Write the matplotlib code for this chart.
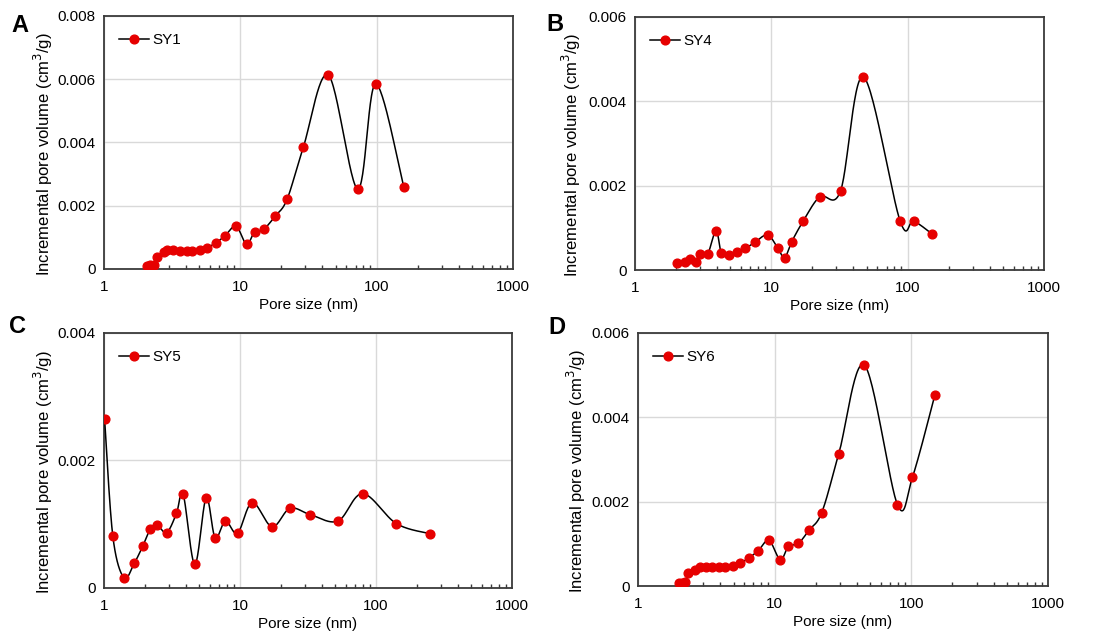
import numpy as np
import matplotlib
matplotlib.use("Agg")
import matplotlib.pyplot as plt
from matplotlib.ticker import LogLocator, FixedLocator, NullFormatter, FuncFormatter

plt.rcParams.update({"font.family": ["Liberation Sans", "DejaVu Sans"], "font.size": 11})

# Panel A - SY1
sy1_x = [2.06, 2.19, 2.31, 2.43, 2.74, 2.92, 3.19, 3.61, 4.06, 4.42, 5.05, 5.66, 6.59,
         7.67, 9.30, 11.1, 12.7, 14.8, 17.9, 22.0, 29.0, 44.2, 72.6, 98.3, 157.8]
sy1_y = [0.00008, 0.00012, 0.00012, 0.00037, 0.00054, 0.00059, 0.00060, 0.00058, 0.00057,
         0.00057, 0.00061, 0.00067, 0.00082, 0.00104, 0.00135, 0.00078, 0.00117, 0.00125,
         0.00166, 0.00220, 0.00386, 0.00613, 0.00253, 0.00585, 0.00260]

# Panel B - SY4
sy4_x = [2.02, 2.33, 2.53, 2.80, 3.00, 3.41, 3.93, 4.30, 4.92, 5.57, 6.45, 7.59, 9.39,
         11.2, 12.5, 14.1, 17.2, 22.7, 32.2, 47.3, 87.8, 110.6, 151.7]
sy4_y = [0.00017, 0.00020, 0.00025, 0.00018, 0.00038, 0.00038, 0.00093, 0.00040, 0.00036,
         0.00042, 0.00051, 0.00066, 0.00083, 0.00051, 0.00029, 0.00067, 0.00117, 0.00174,
         0.00188, 0.00458, 0.00117, 0.00116, 0.00085]

# Panel C - SY5
sy5_x = [1.01, 1.16, 1.40, 1.67, 1.93, 2.18, 2.44, 2.89, 3.41, 3.82, 4.65, 5.63, 6.56,
         7.82, 9.59, 12.3, 17.2, 23.3, 32.9, 52.5, 79.8, 141, 250]
sy5_y = [0.00265, 0.00082, 0.00016, 0.00039, 0.00066, 0.00092, 0.00099, 0.00087, 0.00117,
         0.00147, 0.00037, 0.00141, 0.00079, 0.00105, 0.00086, 0.00134, 0.00096, 0.00125,
         0.00115, 0.00105, 0.00148, 0.00101, 0.00085]

# Panel D - SY6
sy6_x = [2.00, 2.10, 2.22, 2.33, 2.60, 2.83, 3.15, 3.50, 3.89, 4.35, 4.93, 5.57, 6.45,
         7.59, 9.09, 11.0, 12.6, 14.9, 17.8, 22.1, 29.4, 45.3, 79.1, 101.9, 149]
sy6_y = [0.00008, 0.00008, 0.00010, 0.00030, 0.00039, 0.00044, 0.00045, 0.00046, 0.00044,
         0.00044, 0.00048, 0.00054, 0.00066, 0.00084, 0.00108, 0.00062, 0.00094, 0.00101,
         0.00132, 0.00174, 0.00312, 0.00524, 0.00193, 0.00258, 0.00454]

panels = [
    ("A", "SY1", sy1_x, sy1_y, 0.008, [0, 0.002, 0.004, 0.006, 0.008],
     [0.0949, 0.5784, 0.3732, 0.3966], (0.018, 0.960), -0.12),
    ("B", "SY4", sy4_x, sy4_y, 0.006, [0, 0.002, 0.004, 0.006],
     [0.5794, 0.5768, 0.3732, 0.3966], (0.506, 0.962), -0.127),
    ("C", "SY5", sy5_x, sy5_y, 0.004, [0, 0.002, 0.004],
     [0.0949, 0.0784, 0.3723, 0.3997], (0.016, 0.488), -0.12),
    ("D", "SY6", sy6_x, sy6_y, 0.006, [0, 0.002, 0.004, 0.006],
     [0.5821, 0.0815, 0.3741, 0.3966], (0.508, 0.486), -0.122),
]

RED = "#e60000"
SPINE = "#3a3a3a"


def smooth(x, y, ymax, n=30):
    """Excel-style smoothed line (Catmull-Rom in log-x / scaled-y space)."""
    u = np.log10(np.asarray(x, float))
    v = np.asarray(y, float) / ymax * 3.0
    P = np.column_stack([u, v])
    P = np.vstack([P[0], P, P[-1]])
    out = []
    t = np.linspace(0, 1, n)[:, None]
    for i in range(1, len(P) - 2):
        p0, p1, p2, p3 = P[i - 1], P[i], P[i + 1], P[i + 2]
        seg = 0.5 * ((2 * p1) + (-p0 + p2) * t + (2 * p0 - 5 * p1 + 4 * p2 - p3) * t ** 2
                     + (-p0 + 3 * p1 - 3 * p2 + p3) * t ** 3)
        out.append(seg)
    S = np.vstack(out)
    return 10 ** S[:, 0], S[:, 1] / 3.0 * ymax


fig = plt.figure(figsize=(10.96, 6.38), dpi=100)

for letter, name, xs, ys, ymax, yticks, rect, lpos, ylx in panels:
    ax = fig.add_axes(rect)
    sx, sy = smooth(xs, ys, ymax)
    ax.plot(sx, sy, color="black", lw=1.1, zorder=3)
    ax.plot(xs, ys, "o", color=RED, ms=6.3, mec=RED, zorder=4)
    ax.plot([], [], "-o", color="black", mfc=RED, mec=RED, ms=6.3, lw=1.1, label=name)
    ax.set_xscale("log")
    ax.set_xlim(1, 1000)
    ax.set_ylim(0, ymax)
    ax.set_yticks(yticks)
    ax.yaxis.set_major_formatter(FuncFormatter(lambda v, p: "0" if v == 0 else f"{v:.3f}"))
    ax.xaxis.set_major_locator(FixedLocator([1, 10, 100, 1000]))
    ax.xaxis.set_major_formatter(FuncFormatter(lambda v, p: f"{v:g}"))
    ax.xaxis.set_minor_locator(LogLocator(base=10, subs=np.arange(2, 10)))
    ax.xaxis.set_minor_formatter(NullFormatter())
    ax.tick_params(axis="x", which="minor", direction="in", length=3, width=1, color=SPINE)
    ax.tick_params(axis="x", which="major", length=0, pad=8)
    ax.tick_params(axis="y", length=0, pad=6)
    ax.grid(True, which="major", color="#d9d9d9", lw=1)
    ax.set_axisbelow(True)
    for s in ax.spines.values():
        s.set_color(SPINE)
        s.set_linewidth(1.3)
    ax.set_xlabel("Pore size (nm)", labelpad=3)
    ax.set_ylabel("Incremental pore volume (cm$^3$/g)", fontsize=12)
    ax.yaxis.set_label_coords(ylx, 0.455)
    ax.legend(loc="upper left", frameon=False, handlelength=2.0, handletextpad=0.2,
              borderaxespad=0.3, bbox_to_anchor=(0.01, 0.975))
    fig.text(lpos[0], lpos[1], letter, fontsize=17, fontweight="bold", va="center", ha="center")

fig.savefig("out.png", dpi=100)
